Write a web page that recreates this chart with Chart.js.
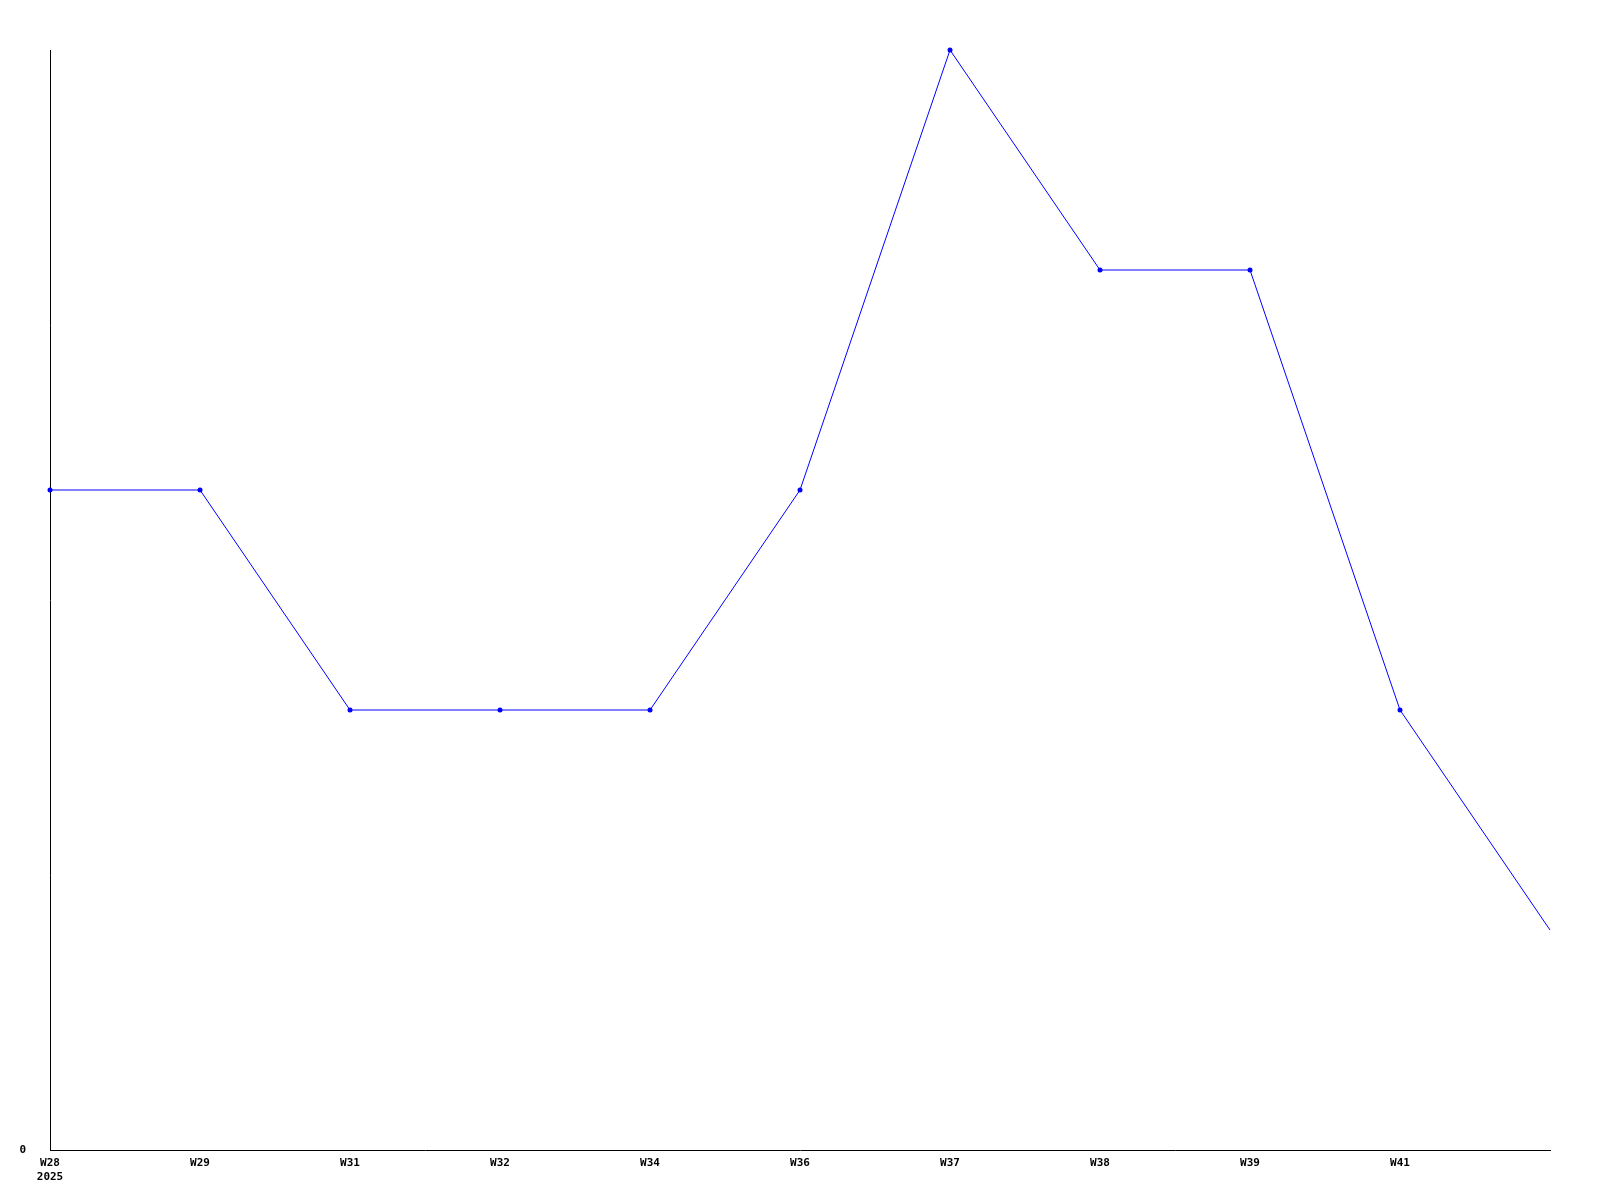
<!DOCTYPE html>
<html>
<head>
<meta charset="utf-8">
<script src="https://cdn.jsdelivr.net/npm/chart.js@4"></script>
<style>
  html, body { margin: 0; padding: 0; background: #fff; }
  #wrap { width: 1600px; height: 1200px; }
</style>
</head>
<body>
<div id="wrap"><canvas id="myChart" width="1600" height="1200"></canvas></div>
<script>
const weeks = [['W28', '2025'], 'W29', 'W31', 'W32', 'W34', 'W36', 'W37', 'W38', 'W39', 'W41', 'W42'];
const counts = [3, 3, 2, 2, 2, 3, 5, 4, 4, 2, 1];
const yMin = 0;
const yMax = 5;

chartIt();

function chartIt(){
  let ctx = document.getElementById('myChart').getContext('2d');
  Chart.defaults.font.family = "'DejaVu Sans Mono', monospace";
  Chart.defaults.font.weight = 'bold';
  Chart.defaults.font.size = 11;
  Chart.defaults.color = '#000';

  let lastIdx = counts.length - 1;

  new Chart(ctx, {
    type: 'line',
    data: {
      labels: weeks,
      datasets: [{
        label: 'Count',
        data: counts,
        borderColor: '#0000ff',
        backgroundColor: '#0000ff',
        borderWidth: 1,
        tension: 0,
        fill: false,
        clip: false,
        pointRadius: c => c.dataIndex === lastIdx ? 0 : 2.5,
        pointHoverRadius: 2.5,
        pointBorderWidth: 0
      }]
    },
    options: {
      responsive: false,
      animation: false,
      layout: { padding: { top: 50, right: 50, left: 0, bottom: 0 } },
      plugins: {
        legend: { display: false },
        tooltip: { enabled: false }
      },
      scales: {
        x: {
          offset: false,
          grid: { display: false, drawTicks: false },
          border: { display: true, color: '#000', width: 1 },
          ticks: {
            autoSkip: false,
            maxRotation: 0,
            padding: 7,
            lineHeight: 1.4,
            callback: function(value, index){
              return index === lastIdx ? '' : this.getLabelForValue(value);
            }
          },
          afterFit: s => { s.height = 50; }
        },
        y: {
          min: yMin,
          max: yMax,
          grid: { display: false, drawTicks: false },
          border: { display: true, color: '#000', width: 1 },
          ticks: {
            stepSize: 1,
            padding: 24,
            callback: v => v === 0 ? '0' : ''
          },
          afterFit: s => { s.width = 50; }
        }
      }
    }
  });
}
</script>
</body>
</html>
